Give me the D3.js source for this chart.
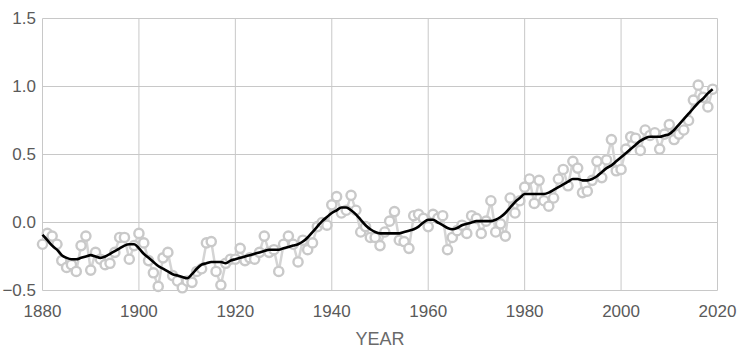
<!DOCTYPE html>
<html><head><meta charset="utf-8">
<script src="https://cdn.jsdelivr.net/npm/d3@7"></script>
<style>body{margin:0;background:#fff}svg{display:block}text{font-family:"Liberation Sans",Arial,sans-serif}</style>
</head><body><svg id="c" width="742" height="350"></svg>
<script>
const startYear = 1880;
const annual = [-16,-8,-10,-16,-28,-33,-31,-36,-17,-10,-35,-22,-27,-31,-30,-22,-11,-11,-27,-17,
-8,-15,-28,-37,-47,-26,-22,-39,-43,-48,-43,-44,-36,-34,-15,-14,-36,-46,-30,-27,
-27,-19,-28,-26,-27,-22,-10,-22,-20,-36,-16,-10,-16,-29,-13,-20,-15,-3,0,-2,
13,19,7,9,20,9,-7,-3,-11,-11,-17,-7,1,8,-13,-14,-19,5,6,3,
-3,6,3,5,-20,-11,-6,-2,-8,5,3,-8,1,16,-7,-1,-10,18,7,16,
26,32,14,31,16,12,18,32,39,27,45,40,22,23,31,45,33,46,61,38,
39,54,63,62,53,68,64,66,54,65,72,61,65,68,75,90,101,92,85,98].map(v=>v/100);
const smooth = [-9,-13,-17,-20,-24,-26,-27,-27,-26,-25,-24,-25,-26,-25,-23,-21,-19,-17,-16,-16,
-19,-23,-26,-29,-32,-34,-36,-38,-39,-40,-41,-38,-34,-31,-30,-29,-29,-29,-30,-28,
-27,-26,-25,-24,-23,-22,-21,-20,-20,-20,-19,-18,-17,-16,-14,-11,-7,-3,1,4,
7,9,11,11,9,6,2,-2,-5,-7,-8,-8,-8,-8,-8,-7,-6,-5,-3,0,
2,2,0,-2,-4,-5,-4,-2,-1,0,1,1,1,1,2,4,7,11,15,18,
21,21,21,21,21,22,24,26,28,30,32,32,31,31,32,34,37,40,42,45,
48,51,54,57,60,62,63,63,63,64,65,68,72,76,80,84,88,91,95,98].map(v=>v/100);
const xTicks = [1880,1900,1920,1940,1960,1980,2000,2020];
const yTicks = [-0.5,0,0.5,1.0,1.5];
const xTitle = "YEAR";

const svg = d3.select("#c");
const L=42.5, R=717.5, T=18.5, B=290.5;
const x = d3.scaleLinear().domain([1880,2020]).range([L,R]);
const y = d3.scaleLinear().domain([-0.5,1.5]).range([B,T]);
const data = annual.map((v,i)=>({yr:startYear+i,v}));
const sm = smooth.map((v,i)=>({yr:startYear+i,v}));

const g = svg.append("g");
g.selectAll(".gx").data(xTicks).join("line")
 .attr("x1",d=>x(d)).attr("x2",d=>x(d)).attr("y1",T).attr("y2",B)
 .attr("stroke","#c8c8c8").attr("stroke-width",1);
g.selectAll(".gy").data(yTicks).join("line")
 .attr("x1",L).attr("x2",R).attr("y1",d=>y(d)).attr("y2",d=>y(d))
 .attr("stroke","#c8c8c8").attr("stroke-width",1);

g.selectAll(".yl").data(yTicks).join("text")
 .attr("x",36).attr("y",d=>y(d)+5.5).attr("text-anchor","end")
 .attr("font-size",17).attr("fill","#5a5a5a").text(d=>d3.format(".1f")(d));
g.selectAll(".xl").data(xTicks).join("text")
 .attr("x",d=>x(d)).attr("y",317).attr("text-anchor","middle")
 .attr("font-size",17).attr("fill","#5a5a5a").text(d=>d);
g.append("text").attr("x",380).attr("y",345).attr("text-anchor","middle")
 .attr("font-size",18).attr("fill","#6a6a6a").text(xTitle);

const line = d3.line().x(d=>x(d.yr)).y(d=>y(d.v));
g.append("path").datum(data).attr("d",line).attr("fill","none")
 .attr("stroke","#d4d4d4").attr("stroke-width",2.5);
g.selectAll(".pt").data(data).join("circle")
 .attr("cx",d=>x(d.yr)).attr("cy",d=>y(d.v)).attr("r",4.6)
 .attr("fill","#fff").attr("stroke","#c9c9c9").attr("stroke-width",2.4);
g.append("path").datum(sm).attr("d",d3.line().x(d=>x(d.yr)).y(d=>y(d.v)).curve(d3.curveMonotoneX))
 .attr("fill","none").attr("stroke","#000").attr("stroke-width",2.6).attr("stroke-linejoin","round");
</script></body></html>
